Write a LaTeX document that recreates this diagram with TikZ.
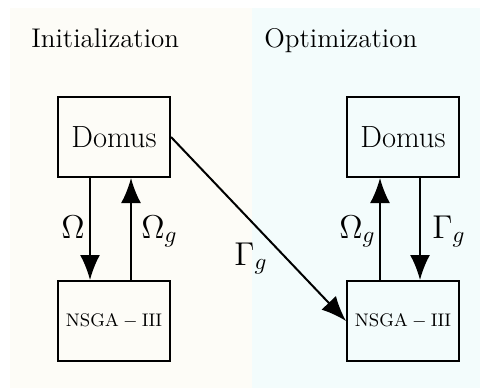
\RequirePackage{fix-cm}
\documentclass[tikz,border=0pt]{standalone}
\usepackage{fontspec}
\usetikzlibrary{arrows.meta,calc}
\definecolor{bgL}{RGB}{253,252,247}
\definecolor{bgR}{RGB}{243,252,252}
\begin{document}
\begin{tikzpicture}[x=0.5pt,y=-0.5pt,
 box/.style={draw,line width=1pt,minimum width=56pt,minimum height=40pt,inner sep=0pt},
 arr/.style={line width=1pt,-{Latex[length=12.5pt,width=10pt]}},
 ttl/.style={font=\fontsize{13.5}{15}\selectfont,anchor=base west,inner sep=0pt},
 lbl/.style={font=\fontsize{16.5}{19}\selectfont,anchor=base west,inner sep=0pt},
 bigtxt/.style={font=\fontsize{15.3}{17}\selectfont},
 smalltxt/.style={font=\fontsize{9.1}{11}\selectfont}]
\useasboundingbox (0,0) rectangle (480,390);
\fill[bgL] (10,8) rectangle (252,388);
\fill[bgR] (252,8) rectangle (480,388);
\node[ttl] (t1) at (31,47) {Initialization};
\node[ttl] (t2) at (264,47) {Optimization};
\node[box,bigtxt] (dl) at (114,137) {Domus};
\node[box,smalltxt] (nl) at (114,321) {$\mathrm{NSGA-III}$};
\node[box,bigtxt] (dr) at (403,137) {Domus};
\node[box,smalltxt] (nr) at (403,321) {$\mathrm{NSGA-III}$};
\draw[arr] ($(dl.south)+(-24,0)$) -- ($(nl.north)+(-24,0)$);
\draw[arr] ($(nl.north)+(17,0)$) -- ($(dl.south)+(17,0)$);
\draw[arr] ($(nr.north)+(-23,0)$) -- ($(dr.south)+(-23,0)$);
\draw[arr] ($(dr.south)+(17,0)$) -- ($(nr.north)+(17,0)$);
\draw[arr] (dl.east) -- (nr.west);
\node[lbl] (l1) at (61,238) {$\Omega$};
\node[lbl] (l2) at (141,238) {$\Omega_g$};
\node[lbl] (l3) at (234,265) {$\Gamma_g$};
\node[lbl] (l4) at (339,238) {$\Omega_g$};
\node[lbl] (l5) at (432,238) {$\Gamma_g$};
\end{tikzpicture}
\end{document}
